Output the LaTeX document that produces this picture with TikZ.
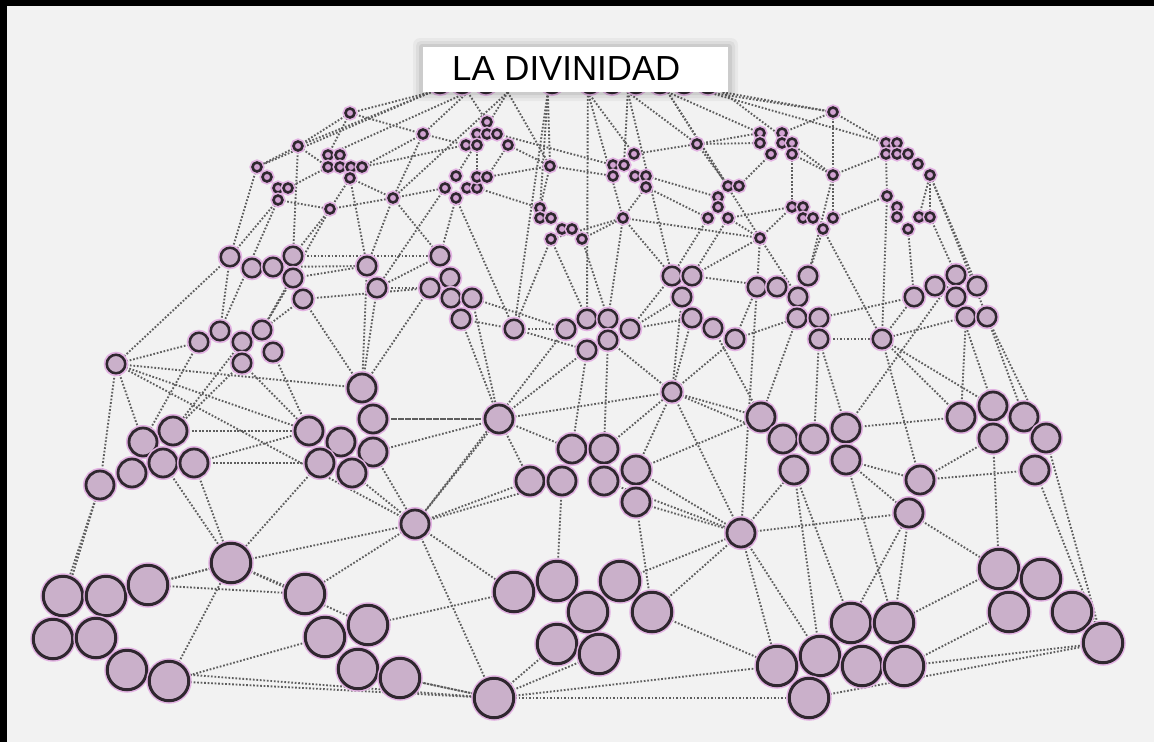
\documentclass[tikz,border=0pt]{standalone}
\usepackage{fontspec}
\setmainfont{Liberation Sans}
\definecolor{paper}{HTML}{F2F2F2}
\definecolor{webgray}{HTML}{5E5E5E}
\definecolor{rim}{HTML}{2F272F}
\definecolor{ballfill}{HTML}{CAB0CA}
\definecolor{smallfill}{HTML}{D2A2D2}
\definecolor{bandpink}{HTML}{C98FC9}
\definecolor{halo}{HTML}{E2B2E2}
\pgfdeclarelayer{bgfill}
\pgfdeclarelayer{webs}
\pgfsetlayers{bgfill,webs,main}
\begin{document}
\begin{tikzpicture}[x=1pt,y=-1pt,
  web/.style={draw=webgray, line width=1.9pt, dash pattern=on 1.7pt off 1.8pt},
  ball/.style={circle, draw=rim, fill=ballfill, inner sep=0pt, preaction={draw=halo, line width=6pt}},
  sc/.style={ball, minimum size=9pt, line width=2.6pt, fill=smallfill, preaction={draw=halo, line width=4pt}},
  mc/.style={ball, minimum size=18.5pt, line width=2.5pt},
  lc/.style={ball, minimum size=28pt, line width=2.8pt},
  bc/.style={ball, minimum size=39.5pt, line width=3pt},
  hidden/.style={ball, minimum size=20pt, line width=2.5pt, fill=bandpink},
  titlebox/.style={rectangle, fill=white, minimum width=305pt, minimum height=45pt, inner sep=0pt},
  titletext/.style={font=\fontsize{34.8}{40}\selectfont, text=black, inner sep=0pt, anchor=base west}]
\useasboundingbox (0,0) rectangle (1154,742);
\begin{pgfonlayer}{bgfill}
  \fill[paper] (0,0) rectangle (1154,742);
  \fill[black] (0,0) rectangle (1154,6);
  \fill[black] (0,0) rectangle (7,742);
\end{pgfonlayer}

% circles hidden under the title box
\foreach \n/\x/\y in {hb1/440/83, hb2/462/83, hb3/486/83, hb4/552/83, hb5/590/83, hb6/612/83, hb7/636/83, hb8/660/83, hb9/684/83, hb10/708/83}
  \node[hidden] (\n) at (\x,\y) {};

% title box with soft shadow
\fill[black, opacity=0.04, rounded corners=7pt] (413,38) rectangle (738,101);
\fill[black, opacity=0.05, rounded corners=5pt] (416,41) rectangle (735,98);
\fill[black, opacity=0.07, rounded corners=3pt] (419,44) rectangle (732,95);
\node[titlebox] (box) at (575.5,69.5) {};
\node[titletext] (title) at (452,80) {LA DIVINIDAD};
\foreach \i/\dx in {1/8, 2/45, 3/85, 4/125, 5/165, 6/205, 7/245, 8/285, 9/300}
  \coordinate (bs\i) at ([xshift=\dx pt]box.south west);

% small circles (top tier)
\foreach \n/\x/\y in {a1/350/113, a2/298/146, a3/328/155, a4/340/155, a5/328/167, a6/340/167, a7/351/167, a8/362/167, a9/350/178,
  b1/257/167, b2/267/177, b3/278/188, b4/288/188, b5/278/200, c1/330/209, c2/393/198, c3/423/134,
  d1/487/122, d2/477/134, d3/487/134, d4/497/134, d5/466/145, d6/477/145, d7/508/145, e1/550/166,
  f1/634/154, f2/613/165, f3/624/165, f4/613/176, f5/635/176, f6/646/176, f7/646/187, g1/697/144,
  h1/456/176, h2/445/188, h3/456/198, h4/467/188, h5/477/188, h6/477/177, h7/487/177,
  i1/540/208, i2/540/218, i3/551/218, i4/562/229, i5/572/229, i6/551/239, i7/582/239, j1/623/218,
  k1/728/186, k2/739/186, k3/718/197, k4/718/207, k5/708/218, k6/728/218, l1/760/238,
  n1/833/112, n2/760/133, n3/760/143, n4/771/154, n5/782/133, n6/782/143, n7/792/143, n8/792/154,
  o1/886/143, o2/897/143, o3/886/154, o4/897/154, o5/908/154, o6/918/164, o7/930/175, p1/833/175,
  q1/792/207, q2/803/207, q3/803/218, q4/813/218, q5/833/218, q6/823/229,
  r1/887/196, r2/897/207, r3/897/217, r4/908/229, r5/919/217, r6/930/217}
  \node[sc] (\n) at (\x,\y) {};

% medium circles
\foreach \n/\x/\y in {m1/230/257, m2/252/268, m3/273/267, m4/293/256, m5/293/278, m6/303/299, m7/367/266, m8/377/288,
  u1/199/342, u2/220/331, u3/242/342, u4/262/330, u5/273/352, u6/242/363, u7/116/364,
  v1/440/256, v2/450/278, v3/430/288, v4/451/298, v5/472/298, v6/461/319, v7/514/329,
  w1/566/329, w2/587/319, w3/608/319, w4/630/329, w5/608/340, w6/587/350,
  x1/672/276, x2/692/276, x3/682/297, x4/692/318, x5/713/328, x6/735/339, x7/672/392,
  y1/757/287, y2/777/287, y3/808/276, y4/798/297, y5/797/318, y6/819/318, y7/819/339, y8/882/339,
  z1/914/297, z2/935/286, z3/956/275, z4/977/286, z5/956/297, z6/966/317, z7/987/317}
  \node[mc] (\n) at (\x,\y) {};

% large circles
\foreach \n/\x/\y in {la1/173/431, la2/143/442, la3/163/463, la4/194/463, la5/132/473, la6/100/485,
  lb1/362/388, lb2/373/419, lb3/309/431, lb4/341/442, lb5/373/452, lb6/320/463, lb7/352/473, lc1/499/419,
  ld1/572/449, ld2/604/449, ld3/530/481, ld4/562/481, ld5/604/481, ld6/636/470, ld7/636/502,
  le1/761/417, le2/783/439, le3/814/439, le4/846/428, le5/846/460, le6/794/470,
  lf1/961/417, lf2/993/406, lf3/1024/417, lf4/1046/438, lf5/993/438, lf6/1035/470,
  lg1/920/480, lg2/909/513, lh1/415/524, li1/741/533}
  \node[lc] (\n) at (\x,\y) {};

% bottom circles
\foreach \n/\x/\y in {ba1/231/563, bb1/63/596, bb2/106/596, bb3/148/585, bb4/53/639, bb5/96/638, bb6/127/670, bb7/169/681,
  bc1/305/594, bc2/325/637, bc3/368/625, bc4/358/669, bc5/400/678,
  bd1/514/592, bd2/557/581, bd3/620/581, bd4/588/612, bd5/652/612, bd6/557/644, bd7/599/654, be1/494/698,
  bf1/851/623, bf2/894/623, bf3/820/656, bf4/862/666, bf5/904/666, bf6/777/666, bf7/809/698,
  bg1/999/569, bg2/1041/579, bg3/1009/612, bg4/1072/612, bg5/1103/643}
  \node[bc] (\n) at (\x,\y) {};

% dotted web
\begin{pgfonlayer}{webs}
\foreach \a/\b in {bs1/a2, bs1/b1, bs1/a1, bs2/c3, bs2/a3, bs2/d1, bs3/h1, bs3/e1, bs3/c2, bs4/i1, bs4/v7,
  bs4/e1, bs5/w2, bs5/f1, bs5/j1, bs6/g1, bs6/x1, bs6/f3, bs7/n2, bs7/k1, bs7/l1, bs8/n1, bs8/o1, bs9/n1, bs9/p1,
  a1/a3, a1/c3, a2/a5, a2/b1, b5/c1, a9/c2, a9/c1, c1/c2, c2/h2, c3/d5, c3/a8, d7/e1, d4/f2, e1/f4, e1/i1,
  e1/h7, h5/i1, i7/j1, j1/f7, f6/k3, f1/g1, g1/n2, g1/k1, k6/l1, l1/q1, n4/k2, n1/n5, n1/o1, n1/p1, n8/p1,
  p1/o3, p1/q5, q5/r1, o7/r6, j1/l1, i6/j1, a1/a2, c3/c2, d6/h6, h7/d7, f7/k5, g1/n3, n8/q1, o3/r1,
  r5/o7, k6/q1, d5/a8, b4/a5,
  b5/m1, c1/m4, a9/m7, c2/m7, c2/v1, h3/v1, h3/v7, i6/v7, i6/w2, j1/w3, j1/x1, k5/x1, l1/x2, l1/y1, q6/y3,
  r4/z1, r6/z3, r1/y8, o7/z4, c1/u4, b5/u2, a2/m4, b1/m1, p1/y3, l1/y4, q6/y8, h2/m8, i7/w3, k6/x2,
  m1/u7, m1/u2, m6/u4, m5/m7, m8/v3, m8/lb1, u1/u7, u5/lb3, u6/la1, u7/la6, u7/la2, u7/lb3, v6/v7, v7/w1,
  v6/lc1, w4/x4, w6/ld1, w5/x7, x6/y5, x7/le1, x7/lc1, x7/li1, x5/le1, y7/y8, y8/z1, y8/lg1, y7/le4, z6/lf1,
  z7/lf3, x6/x7, m6/lb1, v3/lb1, w6/lc1, y8/lf1, u6/lb3, m6/v3, v7/w6, x4/x7, y5/le1, z1/y6,
  m5/u4, v5/w1, w4/x3, x6/y1, y2/x2, y7/le3, z5/lf2, z6/y8, la2/u1, la4/lb3, lb5/lh1, ld3/lh1, ld6/li1,
  le5/lg2, lf6/lg1, ld5/li1, lc1/ld1, w5/ld2, x7/ld6, x7/le2, u7/lb1, m4/v1, m3/m7, v5/lc1, x3/x7,
  la6/bb1, la4/lb6, la4/ba1, la3/ba1, lb6/ba1, lb7/lh1, lb5/lc1, lc1/ld3, lc1/lh1, lh1/bc1, lh1/bd1,
  lh1/be1, lh1/ld4, ld7/li1, ld6/le1, li1/le6, li1/bf6, li1/bd5, le5/lg1, lf5/lg1, lg2/bf2, lg2/bg1,
  le6/bf1, ld7/bd5, ld4/bd2, lf6/bg5, lf4/bg5, le5/bf2, la6/bb4, li1/bf3, lc1/lb2, lf5/bg1, le6/bf3,
  ba1/bb3, ba1/bc1, bb7/bc2, bb7/ba1, bb7/be1, bc4/be1, bd1/bc3, be1/bd6, be1/bf7, bd5/bf6, bf5/bg5,
  bf7/bg5, bg1/bf2, ba1/lh1, bc5/be1, bb3/bc1, ba1/bb2, be1/bf6, bd7/be1, bf5/bg3, bb6/be1,
  u7/lh1, la1/lb3, w1/lh1, y1/li1, z3/le4, lf2/y8, m7/lb1, v1/m8, x1/w4, u3/la1, lb2/lc1, ld2/x7,
  le4/lf1, lg2/li1, bd3/li1, bf7/lg2, ba1/bc3, o7/z7, z7/lf4}
  \draw[web] (\a) -- (\b);
\end{pgfonlayer}
\end{tikzpicture}
\end{document}
